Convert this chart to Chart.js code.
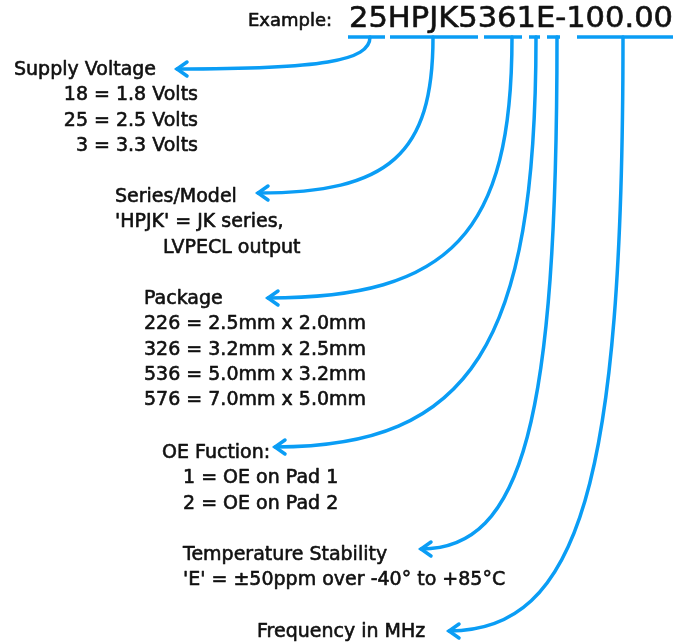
<!DOCTYPE html>
<html>
<head>
<meta charset="utf-8">
<title>Part number example</title>
<script src="https://cdn.jsdelivr.net/npm/chart.js@4.4.1/dist/chart.umd.min.js"></script>
<style>
    html, body { margin: 0; padding: 0; background: #fff; }
    #wrap { width: 689px; height: 644px; position: relative; }
</style>
</head>
<body>
<div id="wrap"><canvas id="partChart"></canvas></div>
<script>
// Part number and the chunks that get underlined
const partLabel = 'Example:';
const partNumber = '25HPJK5361E-100.00';
const codeGroups = ['25', 'HPJK', '536', '1', 'E', '100.00'];
// underline span of each chunk, in the diagram's units (0..689 across)
const underlineFrom = [348, 390, 484, 529, 547, 577];
const underlineTo = [385, 478, 522, 540, 560, 673];

// Field names and their explanation lines
const fieldNames = ['Supply Voltage', 'Series/Model', 'Package', 'OE Fuction:', 'Temperature Stability', 'Frequency in MHz'];
const supplyLines = ['18 = 1.8 Volts', '25 = 2.5 Volts', '3 = 3.3 Volts'];
const seriesLines = ["'HPJK' = JK series,", 'LVPECL output'];
const packageLines = ['226 = 2.5mm x 2.0mm', '326 = 3.2mm x 2.5mm', '536 = 5.0mm x 3.2mm', '576 = 7.0mm x 5.0mm'];
const oeLines = ['1 = OE on Pad 1', '2 = OE on Pad 2'];
const tempLines = ["'E' = \u00b150ppm over -40\u00b0 to +85\u00b0C"];
const freqLines = [];

// Connector ends in the diagram's own units (0..689 across, 0..644 down)
const stemX = [370, 433, 512, 536, 557, 623];
const stemY = [37, 37, 37, 37, 37, 37];
const tipX = [177, 258, 268, 275, 421, 449];
const tipY = [69, 193, 298, 447, 549, 631];

const BLUE = '#0a9df5';
const INK = '#111';
const FONT = '"DejaVu Sans", sans-serif';

// where each text block sits (baseline of the name, x of the name, x of the lines)
const blocks = [
    { name: fieldNames[0], lines: supplyLines, y: 75, nameX: 14, lineX: 198, align: 'right' },
    { name: fieldNames[1], lines: seriesLines, y: 202, nameX: 115, lineX: [115, 163] },
    { name: fieldNames[2], lines: packageLines, y: 304, nameX: 144, lineX: 144 },
    { name: fieldNames[3], lines: oeLines, y: 458, nameX: 162, lineX: 183 },
    { name: fieldNames[4], lines: tempLines, y: 560, nameX: 183, lineX: 183 },
    { name: fieldNames[5], lines: freqLines, y: 637, nameX: 257, lineX: 257 }
];
const LINE_H = 25.3;

const datasets = fieldNames.map((name, i) => ({
    label: name,
    data: [{ x: stemX[i], y: stemY[i] }, { x: tipX[i], y: tipY[i] }],
    showLine: false,
    pointRadius: 0,
    bend: 0.75
}));

// text drawn a little heavier than the regular face
function heavyText(ctx, str, x, y) {
    ctx.fillText(str, x, y);
    ctx.strokeText(str, x, y);
}

// draw curved arrows between the two points of every dataset
const connectorPlugin = {
    id: 'connectors',
    afterDatasetsDraw(chart) {
        const ctx = chart.ctx;
        ctx.save();
        ctx.strokeStyle = BLUE;
        ctx.lineWidth = 3.5;
        ctx.lineCap = 'round';
        ctx.lineJoin = 'miter';
        chart.data.datasets.forEach((ds, i) => {
            const pts = chart.getDatasetMeta(i).data;
            const a = pts[0], b = pts[1];
            const k = ds.bend;
            ctx.beginPath();
            ctx.moveTo(a.x, a.y);
            ctx.bezierCurveTo(a.x, a.y + k * (b.y - a.y), b.x + k * (a.x - b.x), b.y, b.x, b.y);
            ctx.stroke();
            ctx.beginPath();
            ctx.moveTo(b.x + 10, b.y - 7);
            ctx.lineTo(b.x, b.y);
            ctx.lineTo(b.x + 10, b.y + 7);
            ctx.stroke();
        });

        // underlines for each code group
        const xs = chart.scales.x, ys = chart.scales.y;
        ctx.lineCap = 'butt';
        const lineY = ys.getPixelForValue(37);
        codeGroups.forEach((g, i) => {
            ctx.beginPath();
            ctx.moveTo(xs.getPixelForValue(underlineFrom[i]), lineY);
            ctx.lineTo(xs.getPixelForValue(underlineTo[i]), lineY);
            ctx.stroke();
        });
        ctx.restore();
    }
};

// text: part number and the field descriptions
const textPlugin = {
    id: 'partText',
    afterDraw(chart) {
        const ctx = chart.ctx;
        const xs = chart.scales.x, ys = chart.scales.y;
        ctx.save();
        ctx.fillStyle = INK;
        ctx.strokeStyle = INK;
        ctx.lineWidth = 0.6;
        ctx.lineJoin = 'round';
        ctx.textBaseline = 'alphabetic';

        // part number, stretched to its width in the reference
        const right = xs.getPixelForValue(673);
        const left = xs.getPixelForValue(349);
        ctx.font = '29px ' + FONT;
        const stretch = (right - left) / ctx.measureText(partNumber).width;
        ctx.save();
        ctx.translate(left, ys.getPixelForValue(27));
        ctx.scale(stretch, 1);
        heavyText(ctx, partNumber, 0, 0);
        ctx.restore();

        ctx.font = '18px ' + FONT;
        heavyText(ctx, partLabel, xs.getPixelForValue(248), ys.getPixelForValue(26));

        // description blocks
        ctx.font = '19px ' + FONT;
        blocks.forEach(b => {
            ctx.textAlign = 'left';
            heavyText(ctx, b.name, xs.getPixelForValue(b.nameX), ys.getPixelForValue(b.y));
            b.lines.forEach((line, j) => {
                const lx = Array.isArray(b.lineX) ? b.lineX[j] : b.lineX;
                ctx.textAlign = b.align || 'left';
                heavyText(ctx, line, xs.getPixelForValue(lx), ys.getPixelForValue(b.y + LINE_H * (j + 1)));
            });
        });
        ctx.restore();
    }
};

new Chart(document.getElementById('partChart').getContext('2d'), {
    type: 'scatter',
    data: { datasets: datasets },
    options: {
        responsive: true,
        maintainAspectRatio: false,
        animation: false,
        layout: { padding: 0 },
        plugins: {
            legend: { display: false },
            tooltip: { enabled: false }
        },
        scales: {
            x: { type: 'linear', min: 0, max: 689, display: false },
            y: { type: 'linear', min: 0, max: 644, reverse: true, display: false }
        }
    },
    plugins: [connectorPlugin, textPlugin]
});
</script>
</body>
</html>
